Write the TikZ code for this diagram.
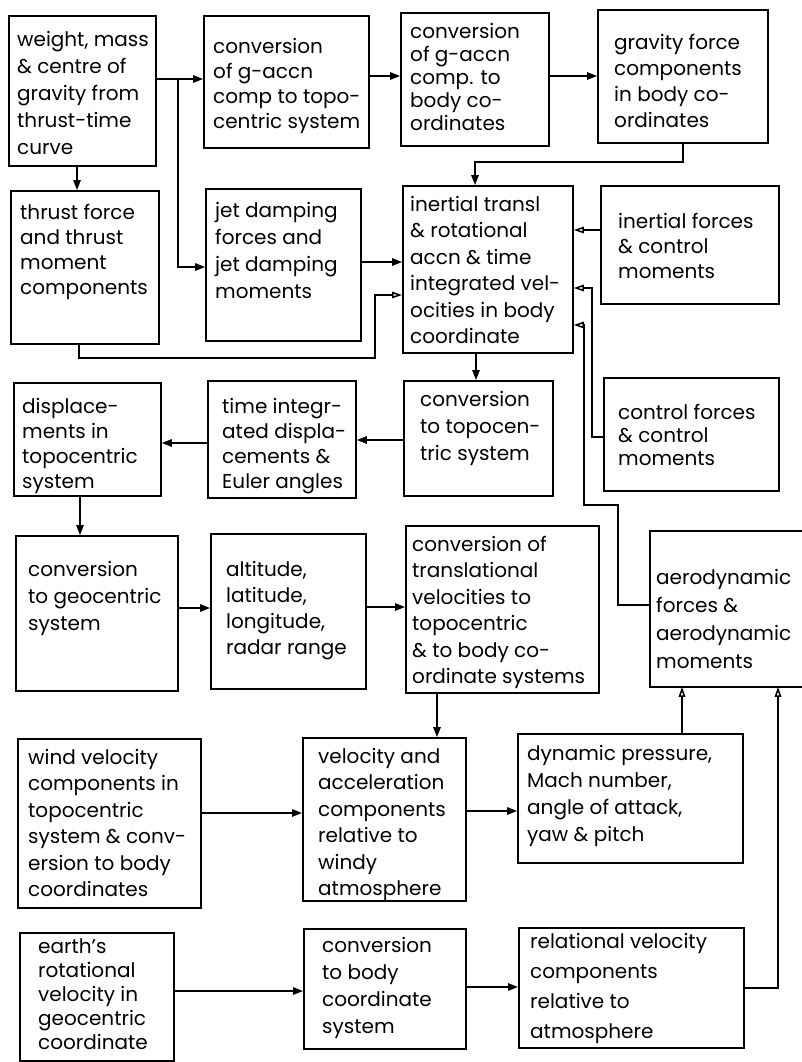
\documentclass[tikz,border=0pt]{standalone}
\usepackage{fontspec}
\setmainfont{Poppins}
\usetikzlibrary{arrows.meta}
\tikzset{
  box/.style={draw, line width=1.8pt, inner sep=0pt, anchor=north west},
  txt/.style={anchor=north west, inner sep=0pt, align=left, font=\fontsize{20}{#1}\selectfont},
  txt/.default=26,
  arr/.style={line width=1.5pt, -{Triangle[length=10pt,width=7.5pt]}},
  oarr/.style={line width=1.5pt, -{Triangle[open,length=10pt,width=6.5pt]}},
}
\begin{document}
\begin{tikzpicture}[x=1pt,y=-1pt]
\useasboundingbox[fill=white] (0,0) rectangle (802,1062);
% boxes
\node[box, minimum width=147pt, minimum height=150pt] (b1) at (8,15) {};
\node[box, minimum width=165pt, minimum height=132pt] (b2) at (203,15) {};
\node[box, minimum width=148pt, minimum height=133pt] (b3) at (400,12) {};
\node[box, minimum width=170pt, minimum height=133pt] (b4) at (597,9) {};
\node[box, minimum width=148pt, minimum height=153pt] (b5) at (10,190) {};
\node[box, minimum width=155pt, minimum height=152pt] (b6) at (205,188) {};
\node[box, minimum width=170pt, minimum height=167pt] (b7) at (402,185) {};
\node[box, minimum width=178pt, minimum height=118pt] (b8) at (600,185) {};
\node[box, minimum width=147pt, minimum height=113pt] (b9) at (13,382) {};
\node[box, minimum width=148pt, minimum height=117pt] (b10) at (207,380) {};
\node[box, minimum width=149pt, minimum height=115pt] (b11) at (403,380) {};
\node[box, minimum width=175pt, minimum height=113pt] (b12) at (603,377) {};
\node[box, minimum width=162pt, minimum height=155pt] (b13) at (15,535) {};
\node[box, minimum width=155pt, minimum height=155pt] (b14) at (210,533) {};
\node[box, minimum width=193pt, minimum height=167pt] (b15) at (405,525) {};
\node[box, draw=none, minimum width=152pt, minimum height=154pt] (aero) at (650,531) {};
\draw[line width=1.8pt] (aero.north east) -- (aero.north west) -- (aero.south west) -- (aero.south east);
\node[box, minimum width=183pt, minimum height=169pt] (b17) at (17,738) {};
\node[box, minimum width=163pt, minimum height=163pt] (b18) at (302,737) {};
\node[box, minimum width=225pt, minimum height=129pt] (b19) at (517,733) {};
\node[box, minimum width=154pt, minimum height=128pt] (b20) at (19,932) {};
\node[box, minimum width=162pt, minimum height=120pt] (b21) at (303,928) {};
\node[box, minimum width=225pt, minimum height=120pt] (b22) at (518,927) {};
% texts
\node[txt=27] (b1t) at (17,31) {weight, mass\\\& centre of\\gravity from\\thrust-time\\curve};
\node[txt=25] (b2t) at (213,38) {conversion\\of g-accn\\comp to topo-\\centric system};
\node[txt=23] (b3t) at (410,23) {conversion\\of g-accn\\comp. to\\body co-\\ordinates};
\node[txt=26] (b4t) at (614,34) {gravity force\\components\\in body co-\\ordinates};
\node[txt=25] (b5t) at (20,204) {thrust force\\and thrust\\moment\\components};
\node[txt=27] (b6t) at (215,202) {jet damping\\forces and\\jet damping\\moments};
\node[txt=26.5] (b7t) at (410,196) {inertial transl\\\& rotational\\accn \& time\\integrated vel-\\ocities in body\\coordinate};
\node[txt=25] (b8t) at (618,213) {inertial forces\\\& control\\moments};
\node[txt=25] (b9t) at (22,398) {displace-\\ments in\\topocentric\\system};
\node[txt=25] (b10t) at (222,398) {time integr-\\ated displa-\\cements \&\\Euler angles};
\node[txt=27] (b11t) at (420,391) {conversion\\to topocen-\\tric system};
\node[txt=23] (b12t) at (618,404) {control forces\\\& control\\moments};
\node[txt=27] (b13t) at (28,561) {conversion\\to geocentric\\system};
\node[txt=26] (b14t) at (226,561) {altitude,\\latitude,\\longitude,\\radar range};
\node[txt=26.5] (b15t) at (412,536) {conversion of\\translational\\velocities to\\topocentric\\\& to body co-\\ordinate systems};
\node[txt=28] (aerot) at (656,569) {aerodynamic\\forces \&\\aerodynamic\\moments};
\node[txt=26.5] (b17t) at (28,749) {wind velocity\\components in\\topocentric\\system \& conv-\\ersion to body\\coordinates};
\node[txt=26.5] (b18t) at (318,748) {velocity and\\acceleration\\components\\relative to\\windy\\atmosphere};
\node[txt=27] (b19t) at (527,745) {dynamic pressure,\\Mach number,\\angle of attack,\\yaw \& pitch};
\node[txt=24] (b20t) at (38,938) {earth's\\rotational\\velocity in\\geocentric\\coordinate};
\node[txt=27] (b21t) at (322,937) {conversion\\to body\\coordinate\\system};
\node[txt=30] (b22t) at (530,933) {relational velocity\\components\\relative to\\atmosphere};
% connectors
\coordinate (j1) at (178,79);
\draw[arr] (b1.east |- 0,79) -- (b2.west |- 0,79);
\draw[arr] (j1) |- (b6.west |- 0,267);
\draw[arr] (b1.south -| 77,0) -- (b5.north -| 77,0);
\draw[arr] (b2.east |- 0,76) -- (b3.west |- 0,76);
\draw[arr] (b3.east |- 0,76) -- (b4.west |- 0,76);
\draw[arr] (b4.south -| 683,0) |- (475,162) -- (b7.north -| 475,0);
\draw[arr] (b6.east |- 0,262) -- (b7.west |- 0,262);
\draw[oarr] (b5.south -| 79,0) |- (375,358) |- (b7.west |- 0,295);
\draw[oarr] (b8.west |- 0,230) -- (b7.east |- 0,230);
\draw[oarr] (b12.west |- 0,437) -| (592,288) -- (b7.east |- 0,288);
\draw[oarr] (aero.west |- 0,605) -| (618,505) -| (584,325) -- (b7.east |- 0,325);
\draw[arr] (b7.south -| 476,0) -- (b11.north -| 476,0);
\draw[arr] (b11.west |- 0,440) -- (b10.east |- 0,440);
\draw[arr] (b10.west |- 0,443) -- (b9.east |- 0,443);
\draw[arr] (b9.south -| 80,0) -- (b13.north -| 80,0);
\draw[arr] (b13.east |- 0,608) -- (b14.west |- 0,608);
\draw[arr] (b14.east |- 0,607) -- (b15.west |- 0,607);
\draw[arr] (b15.south -| 437,0) -- (b18.north -| 437,0);
\draw[arr] (b17.east |- 0,813) -- (b18.west |- 0,813);
\draw[arr] (b18.east |- 0,811) -- (b19.west |- 0,811);
\draw[oarr] (b19.north -| 682,0) -- (aero.south -| 682,0);
\draw[oarr] (b22.east |- 0,988) -| (aero.south -| 778,0);
\draw[arr] (b20.east |- 0,991) -- (b21.west |- 0,991);
\draw[arr] (b21.east |- 0,987) -- (b22.west |- 0,987);
\end{tikzpicture}
\end{document}
